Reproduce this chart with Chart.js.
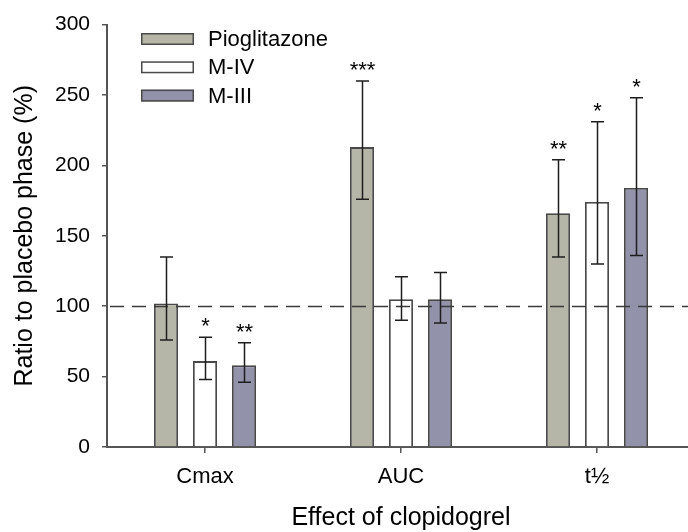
<!DOCTYPE html>
<html><head><meta charset="utf-8">
<script src="https://cdn.jsdelivr.net/npm/chart.js@4.4.1/dist/chart.umd.min.js"></script>
<style>
html,body{margin:0;padding:0;background:#fff;overflow:hidden;width:688px;height:532px}
#wrap{width:695px;height:532px}
</style></head>
<body><div id="wrap"><canvas id="c" width="695" height="532"></canvas></div>
<script>
// ---- data ----
const categories = ['Cmax', 'AUC', 't½'];
const seriesNames = ['Pioglitazone', 'M-IV', 'M-III'];
const pioglitazone     = [102, 213, 166];
const pioglitazoneLow  = [76, 176, 135];
const pioglitazoneHigh = [135, 260, 204];
const pioglitazoneSig  = ['', '***', '**'];
const mIV     = [61, 105, 174];
const mIVLow  = [48, 90, 130];
const mIVHigh = [78, 121, 231];
const mIVSig  = ['*', '', '*'];
const mIII     = [58, 105, 184];
const mIIILow  = [46, 88, 136];
const mIIIHigh = [74, 124, 248];
const mIIISig  = ['**', '', '*'];
const yTicks = [0, 50, 100, 150, 200, 250, 300];
const referenceLine = 100;
const xTitle = 'Effect of clopidogrel';
const yTitle = 'Ratio to placebo phase (%)';

const FONT = "'Liberation Sans', Arial, sans-serif";
const AXIS = '#555555';
const lows = [pioglitazoneLow, mIVLow, mIIILow];
const highs = [pioglitazoneHigh, mIVHigh, mIIIHigh];
const sigs = [pioglitazoneSig, mIVSig, mIIISig];

const overlay = {
  id: 'overlay',
  afterDatasetsDraw(chart) {
    const ctx = chart.ctx, y = chart.scales.y, a = chart.chartArea;
    ctx.save();
    // reference dashed line
    ctx.strokeStyle = '#3a3a3a'; ctx.lineWidth = 1.5; ctx.setLineDash([14, 8]);
    const yr = Math.round(y.getPixelForValue(referenceLine)) + 0.5;
    ctx.beginPath(); ctx.moveTo(a.left + 3, yr); ctx.lineTo(a.right, yr); ctx.stroke();
    ctx.setLineDash([]);
    // error bars + significance
    chart.data.datasets.forEach((ds, di) => {
      const meta = chart.getDatasetMeta(di);
      meta.data.forEach((bar, i) => {
        const x = Math.round(bar.x) + 0.5;
        const yl = y.getPixelForValue(lows[di][i]);
        const yh = y.getPixelForValue(highs[di][i]);
        ctx.strokeStyle = '#1e1e1e'; ctx.lineWidth = 1.5;
        ctx.beginPath();
        ctx.moveTo(x, yl); ctx.lineTo(x, yh);
        ctx.moveTo(x - 6.5, yh); ctx.lineTo(x + 6.5, yh);
        ctx.moveTo(x - 6.5, yl); ctx.lineTo(x + 6.5, yl);
        ctx.stroke();
        const s = sigs[di][i];
        if (s) {
          ctx.fillStyle = '#000'; ctx.font = '22px ' + FONT;
          ctx.textAlign = 'center'; ctx.textBaseline = 'alphabetic';
          ctx.fillText(s, x, yh - 4);
        }
      });
    });
    ctx.restore();
  },
  afterDraw(chart) {
    const ctx = chart.ctx;
    ctx.save();
    chart.data.datasets.forEach((ds, di) => {
      const top = 33 + di * 28.3;
      ctx.fillStyle = ds.backgroundColor; ctx.strokeStyle = '#4a4a4a'; ctx.lineWidth = 1.5;
      ctx.fillRect(141, top, 53, 12);
      ctx.strokeRect(141.75, top + 0.75, 51.5, 10.5);
      ctx.fillStyle = '#000'; ctx.font = '22px ' + FONT;
      ctx.textAlign = 'left'; ctx.textBaseline = 'middle';
      ctx.fillText(ds.label, 208, top + 7);
    });
    ctx.restore();
  }
};

const mk = (label, data, color) => ({
  label, data, backgroundColor: color, borderColor: '#484848', borderWidth: 1.8,
  categoryPercentage: 0.597, barPercentage: 0.615
});

new Chart(document.getElementById('c'), {
  type: 'bar',
  data: {
    labels: categories,
    datasets: [
      mk(seriesNames[0], pioglitazone, '#b6b6a8'),
      mk(seriesNames[1], mIV, '#ffffff'),
      mk(seriesNames[2], mIII, '#9292aa')
    ]
  },
  options: {
    responsive: false, animation: false, devicePixelRatio: 1,
    layout: { padding: { top: 22, right: 0, left: 0, bottom: 0 } },
    plugins: { legend: { display: false }, tooltip: { enabled: false } },
    scales: {
      x: {
        offset: true,
        grid: { display: true, drawOnChartArea: false, drawTicks: true, tickLength: 6, offset: false, color: AXIS, lineWidth: 1.5 },
        border: { display: true, color: AXIS, width: 2 },
        ticks: { color: '#000', font: { family: FONT, size: 22 }, padding: 11, maxRotation: 0 },
        title: { display: true, text: xTitle, color: '#000', font: { family: FONT, size: 25 }, padding: { top: 0, bottom: -1 } },
        afterFit: s => { s.height = 85; }
      },
      y: {
        min: 0, max: 300,
        afterBuildTicks: s => { s.ticks = yTicks.map(v => ({ value: v })); },
        grid: { display: true, drawOnChartArea: false, drawTicks: true, tickLength: 5, color: AXIS, lineWidth: 1.5 },
        border: { display: true, color: AXIS, width: 2 },
        ticks: { color: '#000', font: { family: FONT, size: 21 }, padding: 12 },
        title: { display: true, text: yTitle, color: '#000', font: { family: FONT, size: 25 }, padding: { top: 10, bottom: 0 } },
        afterFit: s => { s.width = 107; }
      }
    }
  },
  plugins: [overlay]
});
</script>
</body></html>
